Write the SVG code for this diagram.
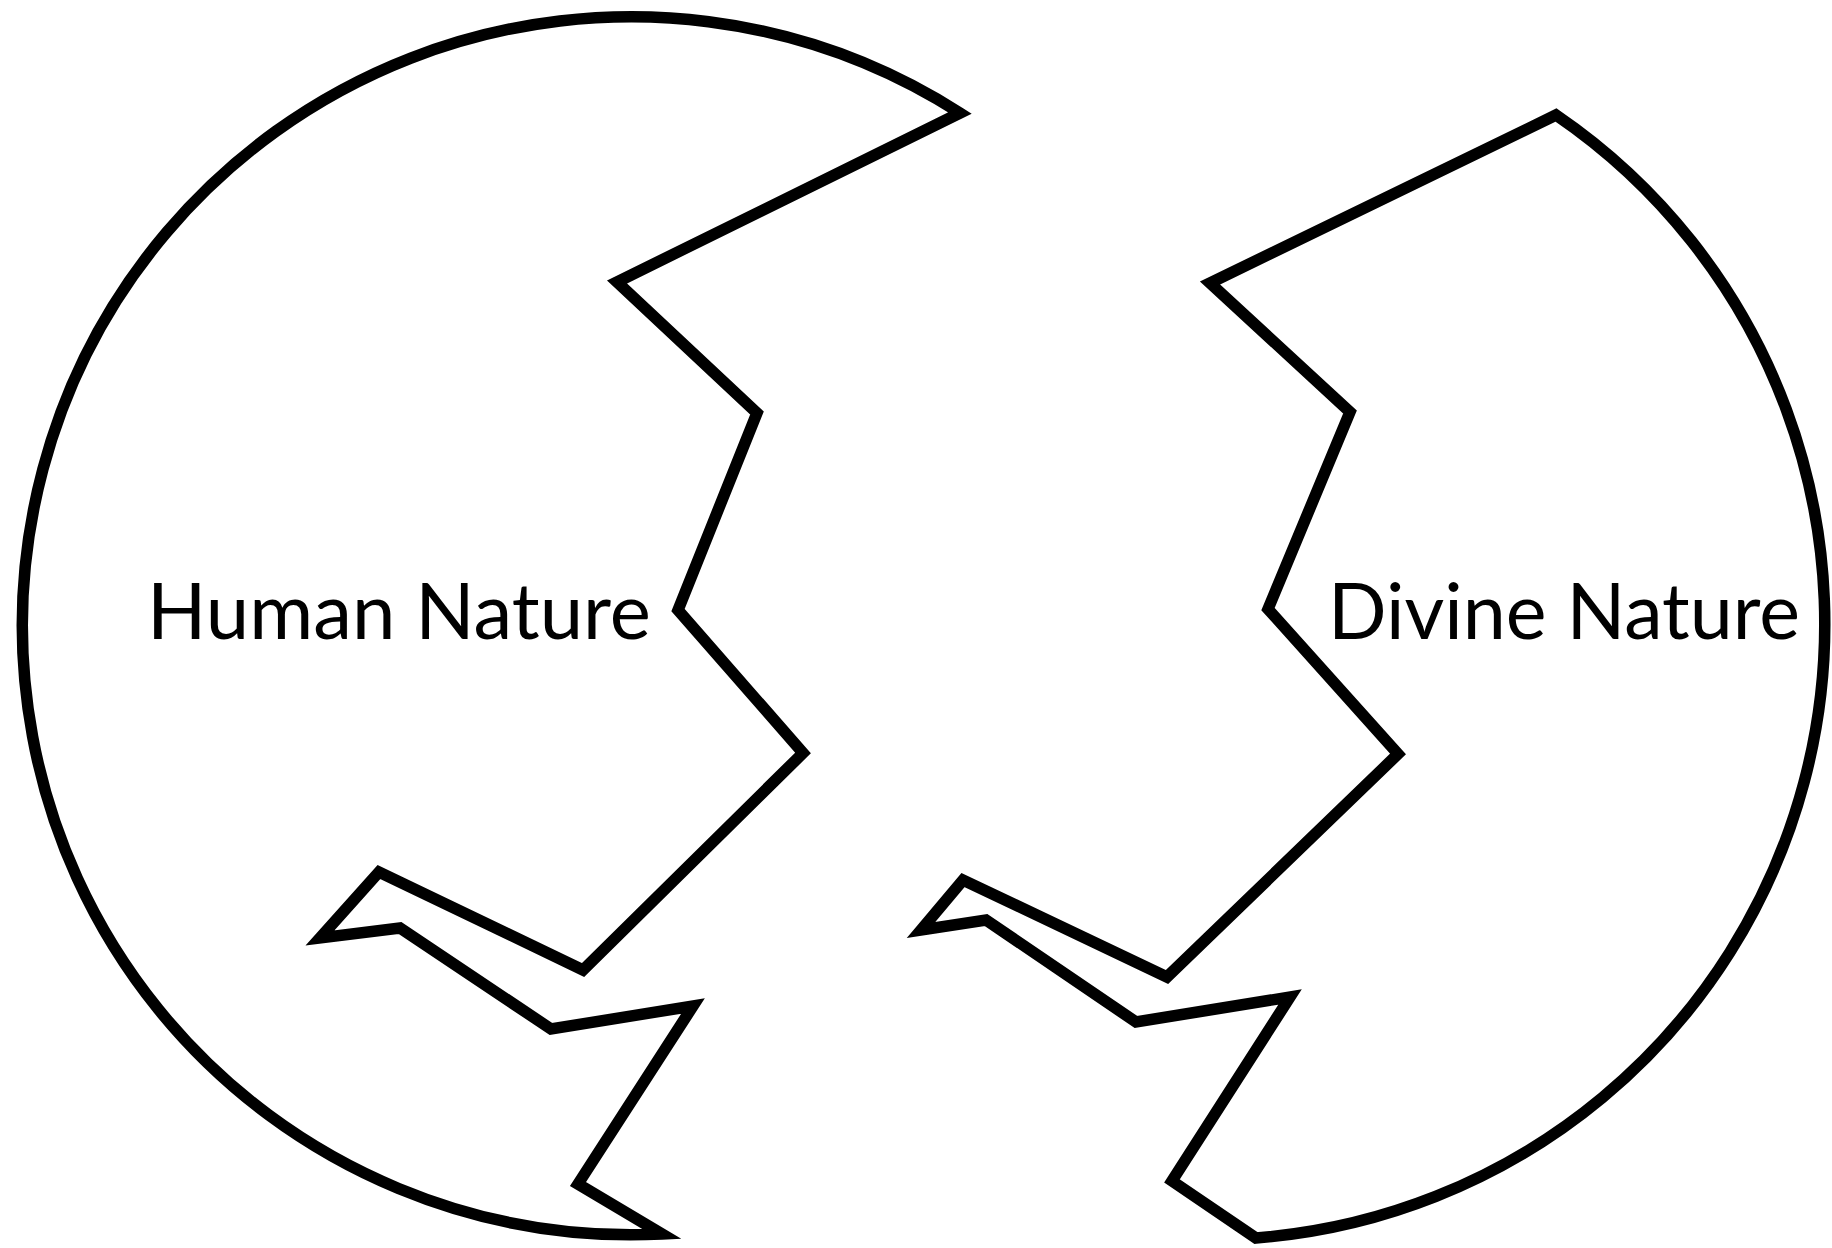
<svg xmlns="http://www.w3.org/2000/svg" width="1832" height="1248" viewBox="0 0 1832 1248">
<style>
.shape{fill:#fff;stroke:#000;stroke-width:11.5;stroke-linejoin:miter;stroke-miterlimit:12}
.lbl{font-family:Lato,"Open Sans","Liberation Sans",sans-serif;font-size:78px;fill:#000}
</style>
<rect width="1832" height="1248" fill="#fff"/>
<g id="human-nature">
<path class="shape" d="M960,113 L617,282 L757,413 L678,610 L803,753 L583,970 L379,872 L320,938 L400,928 L551,1029 L693,1006 L578,1184 L662,1234 A609,609 0 1 1 960,113 Z"/>
<text class="lbl" x="147" y="639" textLength="504" lengthAdjust="spacingAndGlyphs">Human Nature</text>
</g>
<g id="divine-nature">
<path class="shape" d="M1556,115 L1210,283 L1350,412 L1268,609 L1398,754 L1167,977 L963,880 L921,930 L986,920 L1136,1022 L1290,997 L1172,1181 L1256,1238 A616,616 0 0 0 1556,115 Z"/>
<text class="lbl" x="1328" y="639" textLength="472" lengthAdjust="spacingAndGlyphs">Divine Nature</text>
</g>
<g id="connectors"></g>
</svg>
